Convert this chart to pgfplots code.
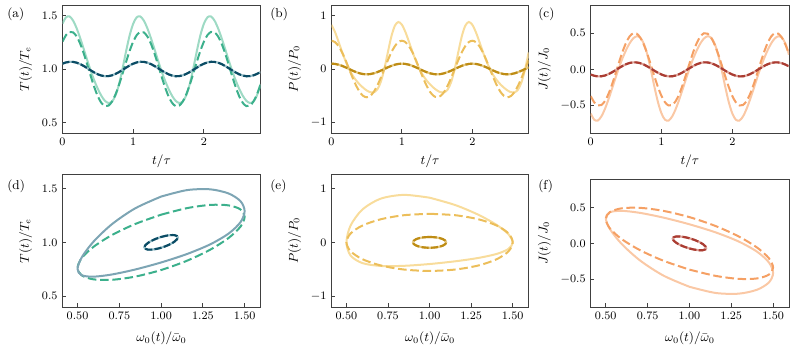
\documentclass[border=0pt]{standalone}
\usepackage{pgfplots}
\usepackage{pgfplotstable}
\pgfplotsset{compat=1.18}

\definecolor{mintL}{RGB}{158,218,196}
\definecolor{greenD}{RGB}{60,176,140}
\definecolor{tealK}{RGB}{10,75,100}
\definecolor{tealU}{RGB}{150,190,200}
\definecolor{slateL}{RGB}{125,165,180}
\definecolor{goldL}{RGB}{248,220,155}
\definecolor{goldD}{RGB}{236,190,90}
\definecolor{goldK}{RGB}{190,140,20}
\definecolor{goldU}{RGB}{228,200,130}
\definecolor{orL}{RGB}{250,200,165}
\definecolor{orD}{RGB}{245,160,100}
\definecolor{redK}{RGB}{170,60,50}
\definecolor{redU}{RGB}{222,165,155}

% time series, t in units of tau
\pgfplotstableread{
t Ts Td Tm Ps Pd Pm Js Jd Jm
0.00 1.4250 1.2568 1.0499 0.8295 0.5300 0.1000 -0.6072 -0.3669 -0.0712
0.05 1.4850 1.3177 1.0617 0.6926 0.5041 0.0951 -0.6929 -0.4539 -0.0881
0.10 1.4925 1.3476 1.0675 0.5119 0.4288 0.0809 -0.7036 -0.4965 -0.0963
0.15 1.4536 1.3434 1.0667 0.3222 0.3115 0.0588 -0.6480 -0.4905 -0.0952
0.20 1.3818 1.3055 1.0594 0.1478 0.1638 0.0309 -0.5454 -0.4365 -0.0847
0.25 1.2901 1.2378 1.0462 0.0000 0.0000 0.0000 -0.4144 -0.3397 -0.0659
0.30 1.1879 1.1468 1.0285 -0.1195 -0.1638 -0.0309 -0.2684 -0.2098 -0.0407
0.35 1.0821 1.0414 1.0081 -0.2137 -0.3115 -0.0588 -0.1173 -0.0592 -0.0115
0.40 0.9816 0.9320 0.9868 -0.2889 -0.4288 -0.0809 0.0263 0.0971 0.0188
0.45 0.8915 0.8292 0.9668 -0.3513 -0.5041 -0.0951 0.1550 0.2440 0.0473
0.50 0.8133 0.7432 0.9501 -0.4021 -0.5300 -0.1000 0.2667 0.3669 0.0712
0.55 0.7483 0.6823 0.9383 -0.4354 -0.5041 -0.0951 0.3596 0.4539 0.0881
0.60 0.7020 0.6525 0.9325 -0.4378 -0.4288 -0.0809 0.4257 0.4965 0.0963
0.65 0.6816 0.6567 0.9333 -0.3845 -0.3115 -0.0588 0.4549 0.4905 0.0952
0.70 0.6951 0.6945 0.9406 -0.2433 -0.1638 -0.0309 0.4356 0.4365 0.0847
0.75 0.7525 0.7622 0.9538 0.0000 0.0000 0.0000 0.3536 0.3397 0.0659
0.80 0.8592 0.8532 0.9715 0.3108 0.1638 0.0309 0.2011 0.2098 0.0407
0.85 1.0066 0.9586 0.9919 0.6085 0.3115 0.0588 -0.0094 0.0592 0.0115
0.90 1.1690 1.0680 1.0132 0.8114 0.4288 0.0809 -0.2414 -0.0971 -0.0188
0.95 1.3163 1.1708 1.0332 0.8815 0.5041 0.0951 -0.4519 -0.2440 -0.0473
1.00 1.4250 1.2568 1.0499 0.8295 0.5300 0.1000 -0.6072 -0.3669 -0.0712
1.05 1.4850 1.3177 1.0617 0.6926 0.5041 0.0951 -0.6929 -0.4539 -0.0881
1.10 1.4925 1.3476 1.0675 0.5119 0.4288 0.0809 -0.7036 -0.4965 -0.0963
1.15 1.4536 1.3434 1.0667 0.3222 0.3115 0.0588 -0.6480 -0.4905 -0.0952
1.20 1.3818 1.3055 1.0594 0.1478 0.1638 0.0309 -0.5454 -0.4365 -0.0847
1.25 1.2901 1.2378 1.0462 0.0000 0.0000 0.0000 -0.4144 -0.3397 -0.0659
1.30 1.1879 1.1468 1.0285 -0.1195 -0.1638 -0.0309 -0.2684 -0.2098 -0.0407
1.35 1.0821 1.0414 1.0081 -0.2137 -0.3115 -0.0588 -0.1173 -0.0592 -0.0115
1.40 0.9816 0.9320 0.9868 -0.2889 -0.4288 -0.0809 0.0263 0.0971 0.0188
1.45 0.8915 0.8292 0.9668 -0.3513 -0.5041 -0.0951 0.1550 0.2440 0.0473
1.50 0.8133 0.7432 0.9501 -0.4021 -0.5300 -0.1000 0.2667 0.3669 0.0712
1.55 0.7483 0.6823 0.9383 -0.4354 -0.5041 -0.0951 0.3596 0.4539 0.0881
1.60 0.7020 0.6525 0.9325 -0.4378 -0.4288 -0.0809 0.4257 0.4965 0.0963
1.65 0.6816 0.6567 0.9333 -0.3845 -0.3115 -0.0588 0.4549 0.4905 0.0952
1.70 0.6951 0.6945 0.9406 -0.2433 -0.1638 -0.0309 0.4356 0.4365 0.0847
1.75 0.7525 0.7622 0.9538 0.0000 0.0000 0.0000 0.3536 0.3397 0.0659
1.80 0.8592 0.8532 0.9715 0.3108 0.1638 0.0309 0.2011 0.2098 0.0407
1.85 1.0066 0.9586 0.9919 0.6085 0.3115 0.0588 -0.0094 0.0592 0.0115
1.90 1.1690 1.0680 1.0132 0.8114 0.4288 0.0809 -0.2414 -0.0971 -0.0188
1.95 1.3163 1.1708 1.0332 0.8815 0.5041 0.0951 -0.4519 -0.2440 -0.0473
2.00 1.4250 1.2568 1.0499 0.8295 0.5300 0.1000 -0.6072 -0.3669 -0.0712
2.05 1.4850 1.3177 1.0617 0.6926 0.5041 0.0951 -0.6929 -0.4539 -0.0881
2.10 1.4925 1.3476 1.0675 0.5119 0.4288 0.0809 -0.7036 -0.4965 -0.0963
2.15 1.4536 1.3434 1.0667 0.3222 0.3115 0.0588 -0.6480 -0.4905 -0.0952
2.20 1.3818 1.3055 1.0594 0.1478 0.1638 0.0309 -0.5454 -0.4365 -0.0847
2.25 1.2901 1.2378 1.0462 0.0000 0.0000 0.0000 -0.4144 -0.3397 -0.0659
2.30 1.1879 1.1468 1.0285 -0.1195 -0.1638 -0.0309 -0.2684 -0.2098 -0.0407
2.35 1.0821 1.0414 1.0081 -0.2137 -0.3115 -0.0588 -0.1173 -0.0592 -0.0115
2.40 0.9816 0.9320 0.9868 -0.2889 -0.4288 -0.0809 0.0263 0.0971 0.0188
2.45 0.8915 0.8292 0.9668 -0.3513 -0.5041 -0.0951 0.1550 0.2440 0.0473
2.50 0.8133 0.7432 0.9501 -0.4021 -0.5300 -0.1000 0.2667 0.3669 0.0712
2.55 0.7483 0.6823 0.9383 -0.4354 -0.5041 -0.0951 0.3596 0.4539 0.0881
2.60 0.7020 0.6525 0.9325 -0.4378 -0.4288 -0.0809 0.4257 0.4965 0.0963
2.65 0.6816 0.6567 0.9333 -0.3845 -0.3115 -0.0588 0.4549 0.4905 0.0952
2.70 0.6951 0.6945 0.9406 -0.2433 -0.1638 -0.0309 0.4356 0.4365 0.0847
2.75 0.7525 0.7622 0.9538 0.0000 0.0000 0.0000 0.3536 0.3397 0.0659
2.80 0.8592 0.8532 0.9715 0.3108 0.1638 0.0309 0.2011 0.2098 0.0407
}\series

% one period against omega_0 (w: large drive, wm: small drive)
\pgfplotstableread{
w wm Ts Td Tm Ps Pd Pm Js Jd Jm
1.0000 1.0000 1.4250 1.2568 1.0499 0.8295 0.5300 0.1000 -0.6072 -0.3669 -0.0712
1.1545 1.0309 1.4850 1.3177 1.0617 0.6926 0.5041 0.0951 -0.6929 -0.4539 -0.0881
1.2939 1.0588 1.4925 1.3476 1.0675 0.5119 0.4288 0.0809 -0.7036 -0.4965 -0.0963
1.4045 1.0809 1.4536 1.3434 1.0667 0.3222 0.3115 0.0588 -0.6480 -0.4905 -0.0952
1.4755 1.0951 1.3818 1.3055 1.0594 0.1478 0.1638 0.0309 -0.5454 -0.4365 -0.0847
1.5000 1.1000 1.2901 1.2378 1.0462 0.0000 0.0000 0.0000 -0.4144 -0.3397 -0.0659
1.4755 1.0951 1.1879 1.1468 1.0285 -0.1195 -0.1638 -0.0309 -0.2684 -0.2098 -0.0407
1.4045 1.0809 1.0821 1.0414 1.0081 -0.2137 -0.3115 -0.0588 -0.1173 -0.0592 -0.0115
1.2939 1.0588 0.9816 0.9320 0.9868 -0.2889 -0.4288 -0.0809 0.0263 0.0971 0.0188
1.1545 1.0309 0.8915 0.8292 0.9668 -0.3513 -0.5041 -0.0951 0.1550 0.2440 0.0473
1.0000 1.0000 0.8133 0.7432 0.9501 -0.4021 -0.5300 -0.1000 0.2667 0.3669 0.0712
0.8455 0.9691 0.7483 0.6823 0.9383 -0.4354 -0.5041 -0.0951 0.3596 0.4539 0.0881
0.7061 0.9412 0.7020 0.6525 0.9325 -0.4378 -0.4288 -0.0809 0.4257 0.4965 0.0963
0.5955 0.9191 0.6816 0.6567 0.9333 -0.3845 -0.3115 -0.0588 0.4549 0.4905 0.0952
0.5245 0.9049 0.6951 0.6945 0.9406 -0.2433 -0.1638 -0.0309 0.4356 0.4365 0.0847
0.5000 0.9000 0.7525 0.7622 0.9538 0.0000 0.0000 0.0000 0.3536 0.3397 0.0659
0.5245 0.9049 0.8592 0.8532 0.9715 0.3108 0.1638 0.0309 0.2011 0.2098 0.0407
0.5955 0.9191 1.0066 0.9586 0.9919 0.6085 0.3115 0.0588 -0.0094 0.0592 0.0115
0.7061 0.9412 1.1690 1.0680 1.0132 0.8114 0.4288 0.0809 -0.2414 -0.0971 -0.0188
0.8455 0.9691 1.3163 1.1708 1.0332 0.8815 0.5041 0.0951 -0.4519 -0.2440 -0.0473
1.0000 1.0000 1.4250 1.2568 1.0499 0.8295 0.5300 0.1000 -0.6072 -0.3669 -0.0712
}\loops

\pgfplotsset{
  panel/.style={
    scale only axis,
    tick align=inside,
    xtick pos=bottom, ytick pos=left,
    axis line style={line width=0.7pt, black!75},
    every tick/.style={black!75, line width=0.6pt},
    major tick length=2.5pt,
    tick label style={font=\fontsize{8.5}{10}\selectfont},
    label style={font=\fontsize{9}{11}\selectfont},
  },
  toprow/.style={panel, width=138.6pt, height=89.6pt,
    xmin=0, xmax=2.8, xtick={0,1,2}, xlabel={$t/\tau$}},
  botrow/.style={panel, width=138.6pt,
    xmin=0.41, xmax=1.595, xtick={0.5,0.75,1,1.25,1.5},
    xticklabel style={/pgf/number format/.cd, fixed, fixed zerofill, precision=2},
    xlabel={$\omega_0(t)/\bar{\omega}_0$},
    xlabel style={yshift=-2pt}},
  big/.style={line width=1.4pt, smooth},
  bigdash/.style={line width=1.4pt, smooth, dash pattern=on 6pt off 2.6pt},
  small/.style={line width=1.5pt, smooth},
  smalldash/.style={line width=1.5pt, smooth, dash pattern=on 5pt off 1.6pt},
  onedec/.style={yticklabel style={/pgf/number format/.cd, fixed, fixed zerofill, precision=1}},
}

\begin{document}
\begin{tikzpicture}
\useasboundingbox (0,0) rectangle (555.1pt,-243.6pt);

% (a)
\begin{axis}[toprow, at={(43.75pt,-3.5pt)}, anchor=north west,
  ymin=0.4, ymax=1.6, ytick={0.5,1,1.5}, onedec, ylabel={$T(t)/T_e$}]
\addplot[big, mintL] table[x=t, y=Ts] {\series};
\addplot[bigdash, greenD] table[x=t, y=Td] {\series};
\addplot[small, tealU] table[x=t, y=Tm] {\series};
\addplot[smalldash, tealK] table[x=t, y=Tm] {\series};
\end{axis}

% (b)
\begin{axis}[toprow, at={(232.05pt,-3.5pt)}, anchor=north west, width=138pt,
  ymin=-1.2, ymax=1.2, ytick={-1,0,1}, ylabel={$P(t)/P_0$}]
\addplot[big, goldL] table[x=t, y=Ps] {\series};
\addplot[bigdash, goldD] table[x=t, y=Pd] {\series};
\addplot[small, goldU] table[x=t, y=Pm] {\series};
\addplot[smalldash, goldK] table[x=t, y=Pm] {\series};
\end{axis}

% (c)
\begin{axis}[toprow, at={(413.5pt,-3.5pt)}, anchor=north west, width=138.8pt,
  ymin=-0.875, ymax=0.885, ytick={-0.5,0,0.5}, onedec, ylabel={$J(t)/J_0$}]
\addplot[big, orL] table[x=t, y=Js] {\series};
\addplot[bigdash, orD] table[x=t, y=Jd] {\series};
\addplot[small, redU] table[x=t, y=Jm] {\series};
\addplot[smalldash, redK] table[x=t, y=Jm] {\series};
\end{axis}

% (d)
\begin{axis}[botrow, at={(43.75pt,-122.15pt)}, anchor=north west, height=92.75pt,
  ymin=0.4, ymax=1.63, ytick={0.5,1,1.5}, onedec, ylabel={$T(t)/T_e$}]
\addplot[bigdash, greenD] table[x=w, y=Td] {\loops};
\addplot[big, slateL] table[x=w, y=Ts] {\loops};
\addplot[small, tealU] table[x=wm, y=Tm] {\loops};
\addplot[smalldash, tealK] table[x=wm, y=Tm] {\loops};
\end{axis}

% (e)
\begin{axis}[botrow, at={(232.05pt,-122.15pt)}, anchor=north west, height=92.75pt, width=137.9pt,
  ymin=-1.2, ymax=1.26, ytick={-1,0,1}, ylabel={$P(t)/P_0$}]
\addplot[big, goldL] table[x=w, y=Ps] {\loops};
\addplot[bigdash, goldD] table[x=w, y=Pd] {\loops};
\addplot[small, goldU] table[x=wm, y=Pm] {\loops};
\addplot[smalldash, goldK] table[x=wm, y=Pm] {\loops};
\end{axis}

% (f)
\begin{axis}[botrow, at={(413.5pt,-125.3pt)}, anchor=north west, height=89.6pt, width=138.8pt,
  ymin=-0.89, ymax=0.9, ytick={-0.5,0,0.5}, onedec, ylabel={$J(t)/J_0$}]
\addplot[big, orL] table[x=w, y=Js] {\loops};
\addplot[bigdash, orD] table[x=w, y=Jd] {\loops};
\addplot[small, redU] table[x=wm, y=Jm] {\loops};
\addplot[smalldash, redK] table[x=wm, y=Jm] {\loops};
\end{axis}

\begin{scope}[every node/.style={anchor=west, inner sep=0pt, font=\fontsize{9}{11}\selectfont}]
\node at (4.9pt,-9.8pt) {(a)};
\node at (189pt,-9.8pt) {(b)};
\node at (376.6pt,-9.8pt) {(c)};
\node at (4.9pt,-130.2pt) {(d)};
\node at (189pt,-130.2pt) {(e)};
\node at (376.6pt,-130.2pt) {(f)};
\end{scope}
\end{tikzpicture}
\end{document}
